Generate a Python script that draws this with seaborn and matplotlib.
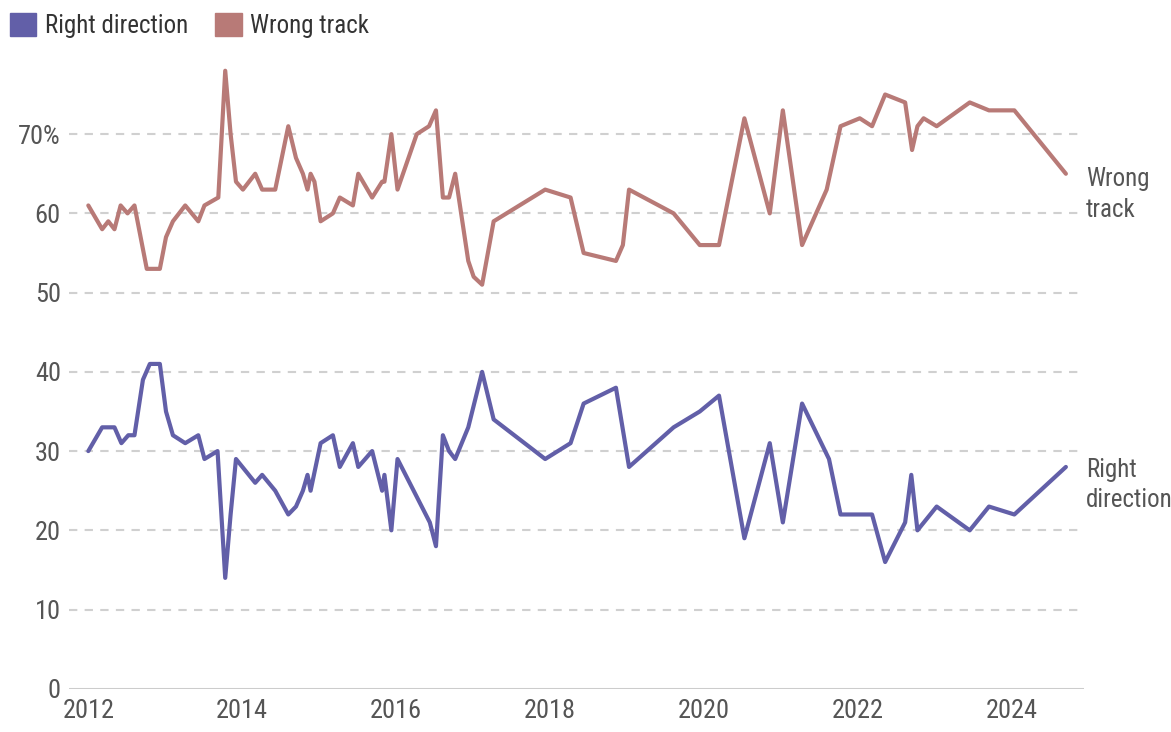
import pandas as pd
import numpy as np
import matplotlib.pyplot as plt
from matplotlib import font_manager as fm
from matplotlib.patches import Patch
import seaborn as sns

# survey dates as decimal years, values in percent
wrong_dates = [2012.00, 2012.18, 2012.26, 2012.34, 2012.42, 2012.51, 2012.60, 2012.76, 2012.93, 2013.01,
               2013.10, 2013.26, 2013.43, 2013.51, 2013.69, 2013.78, 2013.85, 2013.92, 2014.01, 2014.17,
               2014.26, 2014.43, 2014.60, 2014.70, 2014.79, 2014.85, 2014.89, 2014.94, 2015.02, 2015.18,
               2015.27, 2015.44, 2015.51, 2015.69, 2015.82, 2015.85, 2015.94, 2016.02, 2016.27, 2016.43,
               2016.52, 2016.61, 2016.69, 2016.77, 2016.94, 2017.01, 2017.12, 2017.27, 2017.94, 2018.27,
               2018.44, 2018.86, 2018.95, 2019.03, 2019.61, 2019.95, 2020.20, 2020.53, 2020.86, 2021.03,
               2021.28, 2021.60, 2021.78, 2022.03, 2022.19, 2022.36, 2022.62, 2022.71, 2022.78, 2022.86,
               2023.03, 2023.46, 2023.71, 2024.04, 2024.71]
wrong_vals = [61, 58, 59, 58, 61, 60, 61, 53, 53, 57,
              59, 61, 59, 61, 62, 78, 70, 64, 63, 65,
              63, 63, 71, 67, 65, 63, 65, 64, 59, 60,
              62, 61, 65, 62, 64, 64, 70, 63, 70, 71,
              73, 62, 62, 65, 54, 52, 51, 59, 63, 62,
              55, 54, 56, 63, 60, 56, 56, 72, 60, 73,
              56, 63, 71, 72, 71, 75, 74, 68, 71, 72,
              71, 74, 73, 73, 65]

right_dates = [2012.00, 2012.18, 2012.34, 2012.43, 2012.52, 2012.60, 2012.71, 2012.80, 2012.93, 2013.01,
               2013.10, 2013.26, 2013.43, 2013.51, 2013.68, 2013.78, 2013.85, 2013.92, 2014.17, 2014.26,
               2014.43, 2014.60, 2014.70, 2014.79, 2014.85, 2014.89, 2015.02, 2015.18, 2015.27, 2015.44,
               2015.51, 2015.69, 2015.82, 2015.85, 2015.94, 2016.02, 2016.44, 2016.52, 2016.61, 2016.69,
               2016.77, 2016.94, 2017.12, 2017.27, 2017.94, 2018.27, 2018.44, 2018.86, 2019.03, 2019.61,
               2019.95, 2020.20, 2020.53, 2020.86, 2021.03, 2021.28, 2021.63, 2021.78, 2022.19, 2022.36,
               2022.62, 2022.70, 2022.78, 2023.03, 2023.46, 2023.71, 2024.04, 2024.71]
right_vals = [30, 33, 33, 31, 32, 32, 39, 41, 41, 35,
              32, 31, 32, 29, 30, 14, 22, 29, 26, 27,
              25, 22, 23, 25, 27, 25, 31, 32, 28, 31,
              28, 30, 25, 27, 20, 29, 21, 18, 32, 30,
              29, 33, 40, 34, 29, 31, 36, 38, 28, 33,
              35, 37, 19, 31, 21, 36, 29, 22, 22, 16,
              21, 27, 20, 23, 20, 23, 22, 28]

series_names = ["Right direction", "Wrong track"]
series_colors = ["#625fa8", "#b87a77"]
year_ticks = [2012, 2014, 2016, 2018, 2020, 2022, 2024]
pct_ticks = [0, 10, 20, 30, 40, 50, 60, 70]

df = pd.concat([
    pd.DataFrame({"date": right_dates, "pct": right_vals, "series": series_names[0]}),
    pd.DataFrame({"date": wrong_dates, "pct": wrong_vals, "series": series_names[1]}),
])

sns.set_style("white")

# pick a narrow font if one is installed
fonts = fm.fontManager.ttflist
names = {f.name for f in fonts}
scale = 1.0
family = None
for cand in ["Roboto Condensed", "Liberation Sans Narrow", "Open Sans Condensed", "Noto Sans Condensed"]:
    if cand in names:
        family = cand
        break
if family is None:
    family = "DejaVu Sans"
    scale = 0.75
plt.rcParams['font.family'] = [family, 'DejaVu Sans']
tick_size = 19 * scale
label_size = 18 * scale
legend_size = 18 * scale

fig = plt.figure(figsize=(11.71, 7.32), dpi=100)
ax = fig.add_axes([0.059, 0.059, 0.867, 0.866])

sns.lineplot(data=df, x="date", y="pct", hue="series", hue_order=series_names,
             palette=series_colors, linewidth=3.0, legend=False, ax=ax, zorder=3)

ax.set_xlim(2011.75, 2024.95)
ax.set_ylim(0, 80)
ax.set_xticks(year_ticks)
ax.set_xticklabels([str(y) for y in year_ticks])
ax.set_yticks(pct_ticks)
ax.set_yticklabels([f"{v}%" if v == 70 else str(v) for v in pct_ticks])
ax.tick_params(length=0, labelsize=tick_size, labelcolor="#555555", pad=6)
ax.tick_params(axis="x", pad=7)
ax.set_xlabel("")
ax.set_ylabel("")
for s in ax.spines.values():
    s.set_visible(False)

for v in pct_ticks[1:]:
    ax.axhline(v, color="#d0d0d0", lw=1.5, ls=(0, (4, 3.5)), zorder=1)
ax.axhline(0, color="#cccccc", lw=2.2, zorder=1)

ax.text(2024.97, 62.4, "Wrong\ntrack", ha="left", va="center", fontsize=label_size,
        color="#555555", linespacing=1.35, clip_on=False)
ax.text(2024.97, 25.7, "Right\ndirection", ha="left", va="center", fontsize=label_size,
        color="#555555", linespacing=1.35, clip_on=False)

handles = [Patch(facecolor=c, edgecolor=c, label=n) for n, c in zip(series_names, series_colors)]
fig.legend(handles=handles, loc="upper left", bbox_to_anchor=(-0.011, 1.013), ncol=2,
           frameon=False, fontsize=legend_size, handlelength=1.05, handleheight=1.05,
           handletextpad=0.35, columnspacing=1.1, labelcolor="#333333")

plt.savefig("out.png", dpi=100)
